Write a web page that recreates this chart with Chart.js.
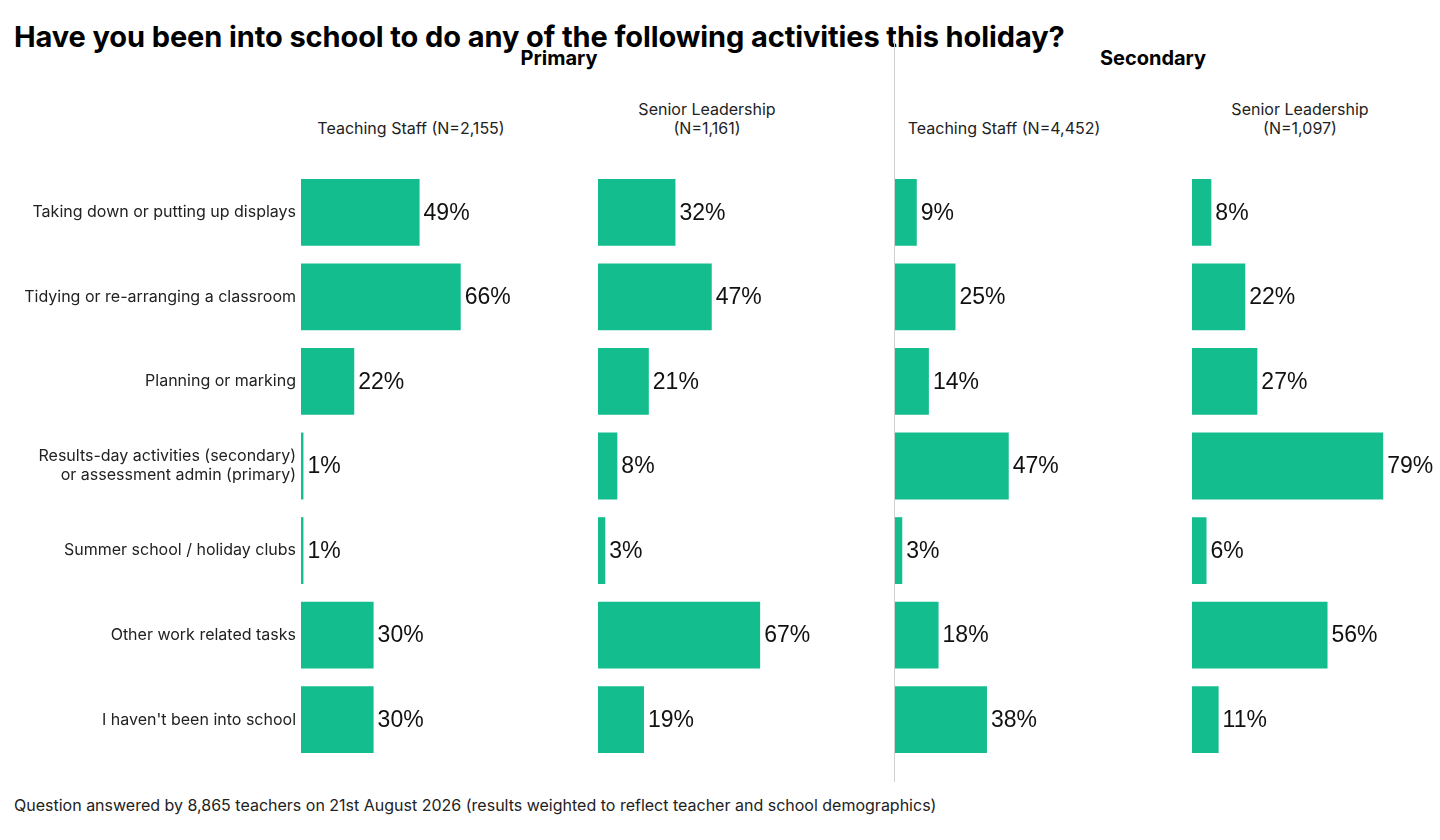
<!DOCTYPE html>
<html>
<head>
<meta charset="utf-8">
<script src="https://cdn.jsdelivr.net/npm/chart.js@4.4.1/dist/chart.umd.min.js"></script>
<style>
  html, body { margin: 0; padding: 0; background: #fff; width: 1440px; height: 840px; overflow: hidden; }
  body { position: relative; font-family: Inter, "Noto Sans", sans-serif; color: #111; }
  .abs { position: absolute; }
  .title { left: 14px; top: 19px; font-size: 29px; font-weight: 700; letter-spacing: -0.1px; white-space: nowrap; color: #000; }
  .group { top: 46px; font-size: 20px; font-weight: 700; color: #000; white-space: nowrap; transform: translateX(-50%); }
  .sub { font-size: 16px; line-height: 19px; color: #222; text-align: center; white-space: nowrap; transform: translateX(-50%); }
  .foot { left: 14px; top: 795px; font-size: 16px; color: #222; white-space: nowrap; }
  .divider { left: 894px; top: 40px; width: 1px; height: 742px; background: #d0d0d0; }
  .panel { top: 170px; height: 592px; }
</style>
</head>
<body>
<div class="abs title">Have you been into school to do any of the following activities this holiday?</div>
<div class="abs group" style="left:559px">Primary</div>
<div class="abs group" style="left:1153px">Secondary</div>
<div class="abs sub" style="left:411px; top:119px">Teaching Staff (N=2,155)</div>
<div class="abs sub" style="left:707px; top:100px">Senior Leadership<br>(N=1,161)</div>
<div class="abs sub" style="left:1004px; top:119px">Teaching Staff (N=4,452)</div>
<div class="abs sub" style="left:1300px; top:100px">Senior Leadership<br>(N=1,097)</div>
<div class="abs divider"></div>

<div class="abs panel" style="left:0; width:598px"><canvas id="p1"></canvas></div>
<div class="abs panel" style="left:598px; width:297px"><canvas id="p2"></canvas></div>
<div class="abs panel" style="left:895px; width:297px"><canvas id="p3"></canvas></div>
<div class="abs panel" style="left:1192px; width:297px"><canvas id="p4"></canvas></div>

<div class="abs foot">Question answered by 8,865 teachers on 21st August 2026 (results weighted to reflect teacher and school demographics)</div>

<script>
// Categories
const activities = [
  "Taking down or putting up displays",
  "Tidying or re-arranging a classroom",
  "Planning or marking",
  ["Results-day activities (secondary)", "or assessment admin (primary)"],
  "Summer school / holiday clubs",
  "Other work related tasks",
  "I haven't been into school"
];

// Percentages per panel
const primaryTeaching = [49, 66, 22, 1, 1, 30, 30];
const primaryLeadership = [32, 47, 21, 8, 3, 67, 19];
const secondaryTeaching = [9, 25, 14, 47, 3, 18, 38];
const secondaryLeadership = [8, 22, 27, 79, 6, 56, 11];

const barColor = "#13bd8e";

// draws "49%" just past the end of each bar
const valueLabels = {
  id: "valueLabels",
  afterDatasetsDraw(chart) {
    const ctx = chart.ctx;
    const meta = chart.getDatasetMeta(0);
    const data = chart.data.datasets[0].data;
    ctx.save();
    ctx.font = "23px 'Liberation Sans', Arial, sans-serif";
    ctx.fillStyle = "#111";
    ctx.textBaseline = "middle";
    ctx.textAlign = "left";
    meta.data.forEach((bar, i) => {
      ctx.fillText(data[i] + "%", bar.x + 4, bar.y + 1);
    });
    ctx.restore();
  }
};

const makePanel = (id, values, showLabels) => {
  const ctx = document.getElementById(id).getContext("2d");
  return new Chart(ctx, {
    type: "bar",
    data: {
      labels: activities,
      datasets: [{
        data: values,
        backgroundColor: barColor,
        borderWidth: 0,
        barPercentage: 0.79,
        categoryPercentage: 1
      }]
    },
    options: {
      indexAxis: "y",
      responsive: true,
      maintainAspectRatio: false,
      animation: false,
      layout: { padding: { left: 0, right: 55, top: 0, bottom: 0 } },
      plugins: { legend: { display: false }, tooltip: { enabled: false } },
      scales: {
        x: { display: false, min: 0, max: 100 },
        y: {
          display: showLabels,
          grid: { display: false, drawTicks: false, tickLength: 0 },
          border: { display: false },
          ticks: {
            padding: 5,
            color: "#222",
            font: { family: "Inter, 'Noto Sans', sans-serif", size: 16, lineHeight: 1.2 }
          },
          afterFit(scale) {
            if (showLabels) {
              scale.width = 301;
              scale.paddingTop = 0;
              scale.paddingBottom = 0;
            }
          }
        }
      }
    },
    plugins: [valueLabels]
  });
};

makePanel("p1", primaryTeaching, true);
makePanel("p2", primaryLeadership, false);
makePanel("p3", secondaryTeaching, false);
makePanel("p4", secondaryLeadership, false);
</script>
</body>
</html>
